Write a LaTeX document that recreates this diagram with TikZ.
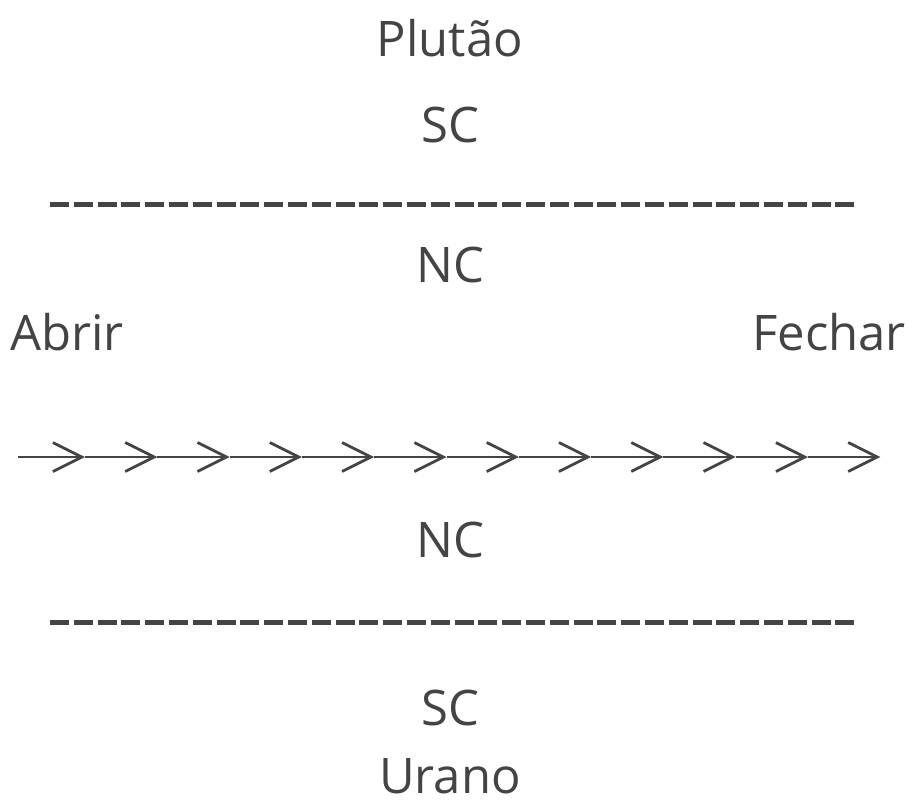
\documentclass[tikz,border=0pt]{standalone}
\usepackage{fontspec}
\setmainfont{Open Sans}
\usetikzlibrary{arrows.meta}
\definecolor{ink}{RGB}{68,68,68}
\tikzset{
  lbl/.style={text=ink, inner sep=0pt, anchor=base, font=\fontsize{49}{58}\selectfont},
  sep/.style={draw=ink, line width=5pt, dash pattern=on 19pt off 4.8pt},
  flow/.style={draw=ink, line width=2.8pt, -{Straight Barb[length=29pt, width=29pt, line width=2.8pt]}}
}
\begin{document}
\begin{tikzpicture}[x=1pt, y=-1pt]
\useasboundingbox (0,0) rectangle (917,809);
\node[lbl] (pluto) at (450,56) {Plutão};
\node[lbl] (sctop) at (450,142) {SC};
\node[lbl] (nctop) at (450,282) {NC};
\node[lbl, anchor=base west] (abrir) at (10,350) {Abrir};
\node[lbl, anchor=base east] (fechar) at (906,350) {Fechar};
\node[lbl] (ncbot) at (450,557) {NC};
\node[lbl] (scbot) at (450,725) {SC};
\node[lbl] (urano) at (450,793) {Urano};

\coordinate (dtl) at (50,204);
\coordinate (dtr) at (854.4,204);
\coordinate (dbl) at (50,622);
\coordinate (dbr) at (854.4,622);
\draw[sep] (dtl) -- (dtr);
\draw[sep] (dbl) -- (dbr);

\coordinate (start) at (18,457);
\foreach \i in {0,...,11}
  \coordinate (t\i) at (85+72.3*\i,457);
\draw[flow] (start) -- (t0);
\foreach \i [evaluate=\i as \j using int(\i+1)] in {0,...,10}
  \draw[flow] (t\i) -- (t\j);
\end{tikzpicture}
\end{document}
